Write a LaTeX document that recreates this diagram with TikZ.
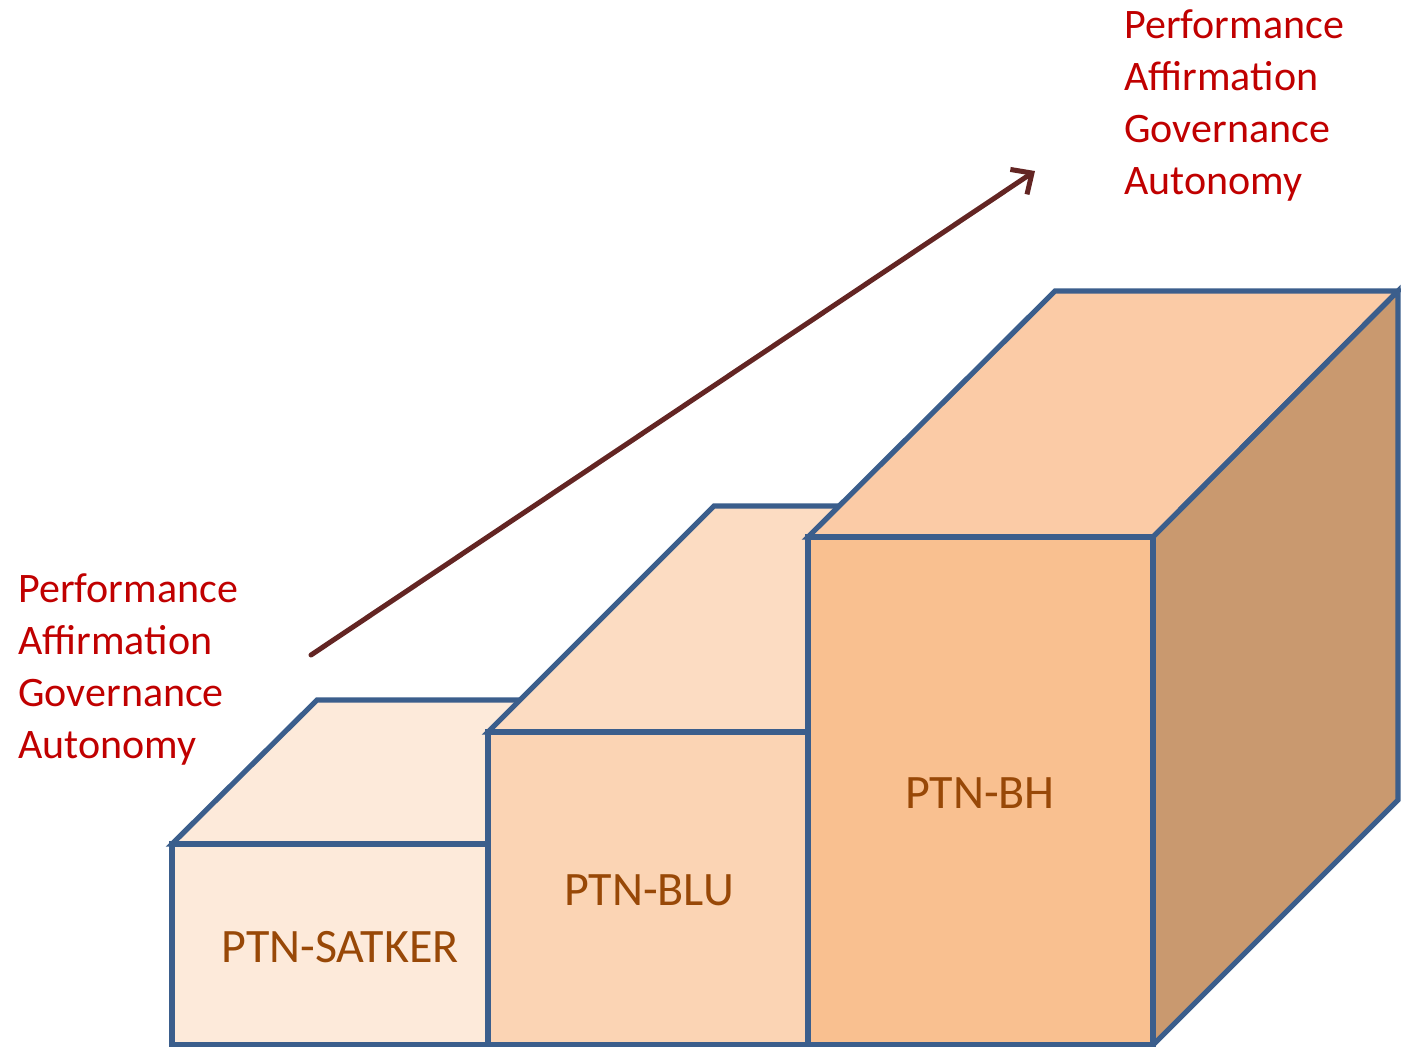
\documentclass[tikz,border=0pt]{standalone}
\usepackage{fontspec}
\setmainfont{Carlito}
\usetikzlibrary{arrows.meta,positioning}
\definecolor{edgeblue}{HTML}{3B5E8C}
\definecolor{arrowred}{HTML}{632523}
\definecolor{textred}{HTML}{C00000}
\definecolor{labelbrown}{HTML}{984807}
\definecolor{satkerface}{HTML}{FDEADA}
\definecolor{bluface}{HTML}{FBD4B4}
\definecolor{blutop}{HTML}{FCDCC2}
\definecolor{bhface}{HTML}{F9C090}
\definecolor{bhtop}{HTML}{FBCBA6}
\definecolor{bhside}{HTML}{C9996F}
\begin{document}
\begin{tikzpicture}[x=0.5pt,y=-0.5pt,
	boxface/.style={draw=edgeblue, line width=2.6pt, line join=miter},
	boxlabel/.style={text=labelbrown, font=\fontsize{24}{29}\selectfont},
	keywords/.style={text=textred, align=left, inner sep=0pt, anchor=north west, font=\fontsize{21}{26}\selectfont}]
			\useasboundingbox (0,0) rectangle (1401,1046);
			% PTN-SATKER
			\filldraw[boxface, fill=satkerface] (172,844)--(317,700)--(633,700)--(488,844)--cycle;
			\filldraw[boxface, fill=satkerface] (172,844) rectangle (488,1045);
			% PTN-BLU
			\filldraw[boxface, fill=blutop] (488,732)--(714,506)--(1034,506)--(808,732)--cycle;
			\filldraw[boxface, fill=bluface] (488,732) rectangle (808,1045);
			% PTN-BH
			\filldraw[boxface, fill=bhtop] (808,537)--(1055,291)--(1398,291)--(1153,537)--cycle;
			\filldraw[boxface, fill=bhside] (1153,537)--(1398,291)--(1398,800)--(1153,1045)--cycle;
			\filldraw[boxface, fill=bhface] (808,537) rectangle (1153,1045);
			\node[boxlabel] (satker) at (340,947) {PTN-SATKER};
			\node[boxlabel] (blu) at (649,890) {PTN-BLU};
			\node[boxlabel] (bh) at (980,793) {PTN-BH};
			% growth arrow
			\coordinate (low) at (311,655);
			\coordinate (high) at (1035,171);
			\draw[-{Straight Barb[length=8pt,width=15pt]}, arrowred, line width=2.5pt, line cap=round] (low)--(high);
			\node[keywords] (lowlist) at (18,573) {Performance\\Affirmation\\Governance\\Autonomy};
			\node[keywords] (highlist) at (1124,9) {Performance\\Affirmation\\Governance\\Autonomy};
			\end{tikzpicture}
\end{document}
